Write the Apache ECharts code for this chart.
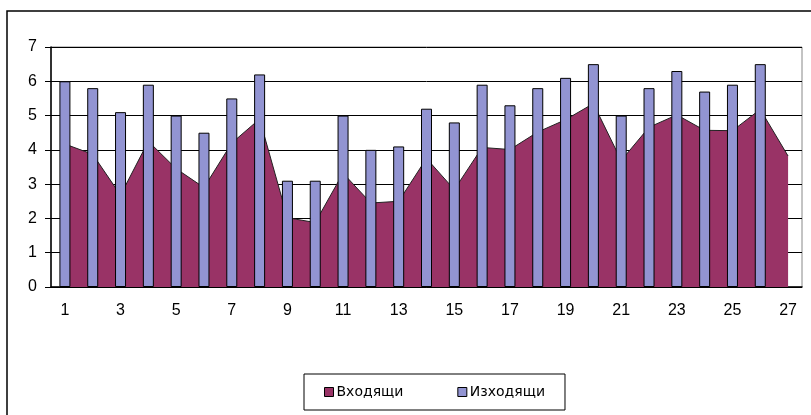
<!DOCTYPE html>
<html>
<head>
<meta charset="utf-8">
<script src="https://cdn.jsdelivr.net/npm/echarts@6/dist/echarts.min.js"></script>
<style>
  body { margin: 0; background: #fff; }
  #chart { width: 811px; height: 415px; }
</style>
</head>
<body>
<div id="chart"></div>
<script>
  // categories 1..27
  var days = ['1','2','3','4','5','6','7','8','9','10','11','12','13','14','15','16','17','18','19','20','21','22','23','24','25','26','27'];
  // Входящи (area)
  var incoming = [4.17, 3.87, 2.68, 4.25, 3.45, 2.9, 4.2, 4.9, 2.02, 1.88, 3.32, 2.45, 2.5, 3.75, 2.84, 4.07, 4.01, 4.52, 4.88, 5.35, 3.69, 4.66, 5.02, 4.57, 4.56, 5.18, 3.82];
  // Изходящи (columns), no column for 27
  var outgoing = [6.0, 5.8, 5.1, 5.9, 5.0, 4.5, 5.5, 6.2, 3.1, 3.1, 5.0, 4.0, 4.1, 5.2, 4.8, 5.9, 5.3, 5.8, 6.1, 6.5, 5.0, 5.8, 6.3, 5.7, 5.9, 6.5, '-'];
  var yTicks = [0, 7, 1];

  var chart = echarts.init(document.getElementById('chart'));
  var font = 'Arial, "Liberation Sans", sans-serif';

  var option = {
    animation: false,
    textStyle: { fontFamily: font },
    graphic: [{
      type: 'rect',
      shape: { x: 7, y: 11, width: 1000, height: 1000 },
      style: { fill: 'none', stroke: '#000', lineWidth: 1.5 },
      z: 100
    }],
    legend: {
      left: 304,
      top: 374,
      padding: [11, 20, 11, 20],
      itemGap: 54,
      itemWidth: 9,
      itemHeight: 9,
      borderColor: '#000',
      borderWidth: 1,
      icon: 'rect',
      textStyle: { fontFamily: '"DejaVu Sans", sans-serif', fontSize: 14, color: '#000', padding: [0, 0, 0, -2] },
      data: [
        { name: 'Входящи', itemStyle: { color: '#993366', borderColor: '#000', borderWidth: 1 } },
        { name: 'Изходящи', itemStyle: { color: '#9294d2', borderColor: '#000', borderWidth: 1 } }
      ]
    },
    grid: {
      left: 51, right: 9, top: 47, bottom: 128,
      show: true, borderColor: '#888', borderWidth: 1
    },
    xAxis: {
      type: 'category',
      data: days,
      axisLine: { lineStyle: { color: '#000', width: 1.5 } },
      axisTick: { show: false },
      axisLabel: { interval: 1, margin: 16, fontSize: 16, color: '#000', fontFamily: font }
    },
    yAxis: {
      type: 'value',
      min: yTicks[0], max: yTicks[1], interval: yTicks[2],
      axisLine: { show: true, lineStyle: { color: '#000', width: 1.5 } },
      axisTick: { show: true, length: 6, lineStyle: { color: '#000' } },
      axisLabel: { margin: 14, fontSize: 16, color: '#000', fontFamily: font },
      splitLine: { lineStyle: { color: '#000', width: 1 } }
    },
    series: [
      {
        name: 'Входящи',
        type: 'line',
        data: incoming,
        symbol: 'none',
        z: 2,
        lineStyle: { color: '#222', width: 1 },
        itemStyle: { color: '#993366' },
        areaStyle: { color: '#993366', opacity: 1 }
      },
      {
        name: 'Изходящи',
        type: 'bar',
        data: outgoing,
        barWidth: 11,
        z: 5,
        itemStyle: { color: '#9294d2', borderColor: '#000', borderWidth: 1 }
      }
    ]
  };
  chart.setOption(option);
</script>
</body>
</html>
